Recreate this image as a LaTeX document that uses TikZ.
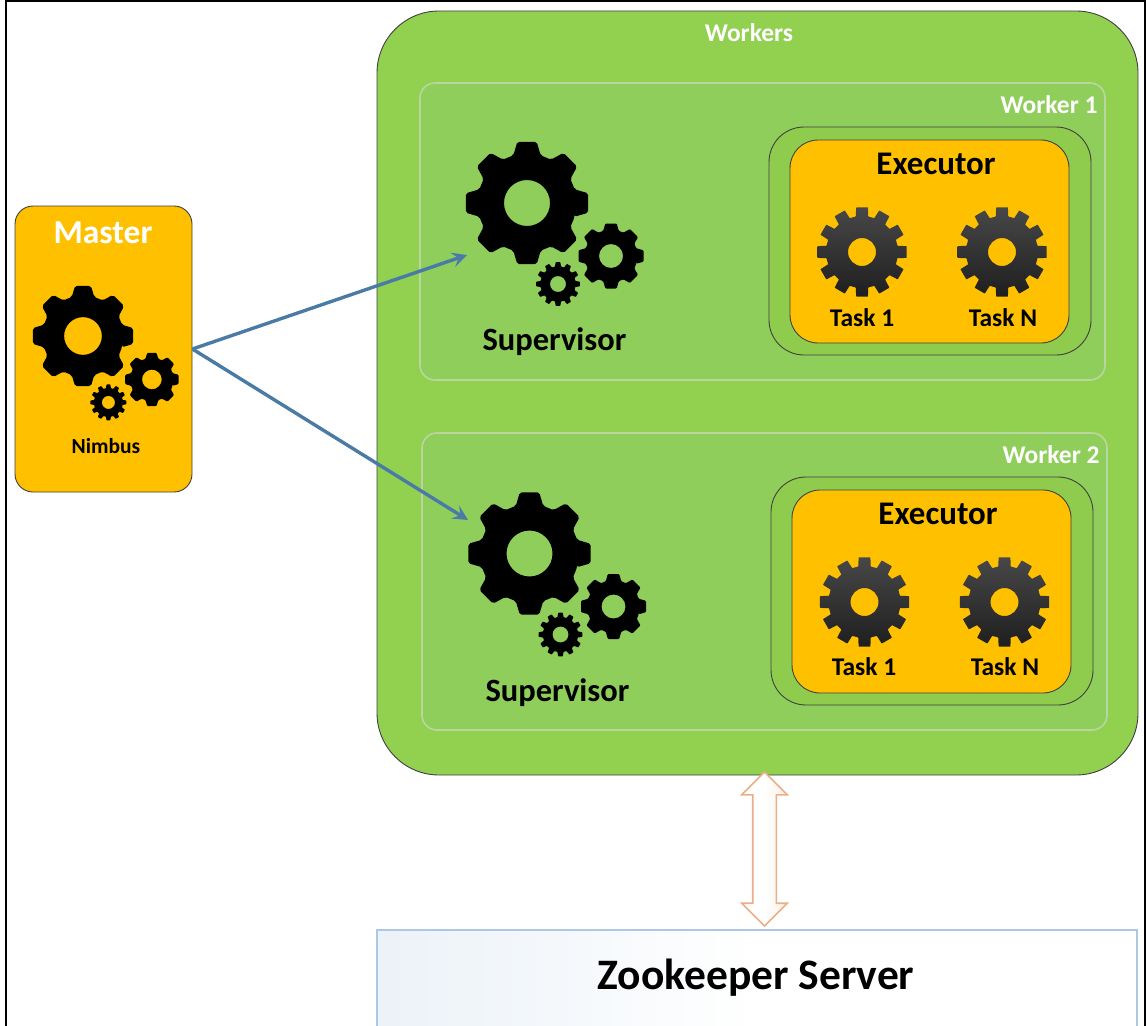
\documentclass[tikz,border=0pt]{standalone}
\usepackage{fontspec}
\setmainfont{Carlito}
\usetikzlibrary{positioning}
\usetikzlibrary{arrows.meta}
\usetikzlibrary{shapes.arrows}
\definecolor{leaf}{HTML}{92D050}
\definecolor{workerleaf}{HTML}{90CE5B}
\definecolor{amber}{HTML}{FFC000}
\definecolor{rim}{HTML}{BAD6A0}
\definecolor{link}{HTML}{4A7BA6}
\definecolor{peach}{HTML}{EBAF88}
\definecolor{paleblue}{HTML}{ADC8E2}
\tikzset{
	pics/cog/.style n args={6}{code={
		\path[pic actions,even odd rule,rounded corners=#6] (#4:#2*.8)
			\foreach \i in {1,...,#1} {
				-- ({\i*360/#1-#4}:#2*.8) -- ({\i*360/#1-#3}:#2)
				-- ({\i*360/#1+#3}:#2) -- ({\i*360/#1+#4}:#2*.8)
			} -- cycle (0,0) circle[radius=#5];
	}},
	pics/cogset/.style={code={
		\pic[fill=black,transform shape] at (0,0) {cog={8}{62}{9}{16}{23}{2pt}};
		\pic[fill=black,transform shape] at (84,53) {cog={8}{33}{10}{17}{12}{1pt}};
		\pic[fill=black,transform shape] at (31,81) {cog={12}{22}{6}{10}{8}{.5pt}};
	}},
	taskcog/.style={top color=black!72,bottom color=black!88},
	box/.style={draw=black!75,rectangle,inner sep=0pt,line width=.9pt},
	workerbox/.style={draw=rim,fill=workerleaf,rectangle,rounded corners=15pt,line width=1.6pt,inner sep=0pt,minimum width=685pt,minimum height=297pt},
	holder/.style={box,fill=leaf!98!black,rounded corners=35pt,minimum width=322pt,minimum height=228pt},
	execbox/.style={box,fill=amber,rounded corners=28pt,minimum width=279pt,minimum height=203pt},
	execlabel/.style={font=\fontsize{33}{38}\selectfont\bfseries},
	tasklabel/.style={font=\fontsize{25.5}{30}\selectfont\bfseries},
	suplabel/.style={font=\fontsize{32.5}{38}\selectfont\bfseries},
	whitelabel/.style={text=white,font=\fontsize{25.5}{30}\selectfont\bfseries},
	flow/.style={draw=link,line width=3.4pt,-{Stealth[length=15pt,width=15pt,inset=6pt]}}
}
\begin{document}
\begin{tikzpicture}[x=1pt,y=-1pt]
	\useasboundingbox (0,0) rectangle (1147,1025);
	\node[fill=white,rectangle,draw=black,line width=2.6pt,inner sep=0pt,minimum width=1139pt,minimum height=1040pt] at (575.5,521) (frame) {};
	% master
	\node[box,fill=amber,rounded corners=18pt,minimum width=177pt,minimum height=286pt] at (103.5,349) (master) {};
	\node[text=white,font=\fontsize{33.5}{38}\selectfont\bfseries] at (103,233) (masterlabel) {Master};
	\pic[scale=.82] at (83,336) {cogset};
	\node[font=\fontsize{21.5}{26}\selectfont\bfseries] at (106,446) (nimbus) {Nimbus};
	% workers
	\node[box,fill=leaf,rounded corners=62pt,minimum width=761pt,minimum height=764pt] at (757.5,393) (workers) {};
	\node[whitelabel] at (749,33) (workerslabel) {Workers};
	% worker 1
	\node[workerbox] at (762.5,231.5) (w1) {};
	\node[whitelabel] at (1049,105) (w1label) {Worker 1};
	\pic at (527,203) {cogset};
	\node[suplabel] at (554.5,342) (sup1) {Supervisor};
	\node[holder] at (930,241) (hold1) {};
	\node[execbox] at (929.5,241.5) (exec1) {};
	\node[execlabel] at (936,164) (exec1label) {Executor};
	\pic[taskcog] at (862,252) {cog={12}{45}{7.5}{10}{14}{.5pt}};
	\pic[taskcog] at (1002,252) {cog={12}{45}{7.5}{10}{14}{.5pt}};
	\node[tasklabel] at (862,318) (task11) {Task 1};
	\node[tasklabel] at (1003,318) (task1n) {Task N};
	% worker 2
	\node[workerbox] at (764.5,581.5) (w2) {};
	\node[whitelabel] at (1051,455) (w2label) {Worker 2};
	\pic at (529.5,553.5) {cogset};
	\node[suplabel] at (557.5,693) (sup2) {Supervisor};
	\node[holder] at (932,591) (hold2) {};
	\node[execbox] at (931.5,591.5) (exec2) {};
	\node[execlabel] at (938,514) (exec2label) {Executor};
	\pic[taskcog] at (864.5,602) {cog={12}{45}{7.5}{10}{14}{.5pt}};
	\pic[taskcog] at (1004.5,602) {cog={12}{45}{7.5}{10}{14}{.5pt}};
	\node[tasklabel] at (864,667) (task21) {Task 1};
	\node[tasklabel] at (1005,667) (task2n) {Task N};
	% zookeeper
	\node[draw=paleblue,rectangle,line width=1.6pt,inner sep=0pt,left color=paleblue!24,right color=white,middle color=white,minimum width=760pt,minimum height=160pt] at (757,1010) (zk) {};
	\node[font=\fontsize{43.5}{50}\selectfont\bfseries] at (756,978) (zklabel) {Zookeeper Server};
	\node[double arrow,draw=peach,line width=1.6pt,rotate=90,inner xsep=0pt,inner ysep=11pt,double arrow head extend=11pt,minimum width=44pt,minimum height=154pt,left color=white,right color=peach!20,middle color=white] at (764.5,849) (link) {};
	% arrows
	\coordinate (sup1in) at (467,255);
	\coordinate (sup2in) at (468,520);
	\draw[flow] (master.east) to (sup1in);
	\draw[flow] (master.east) to (sup2in);
\end{tikzpicture}
\end{document}
